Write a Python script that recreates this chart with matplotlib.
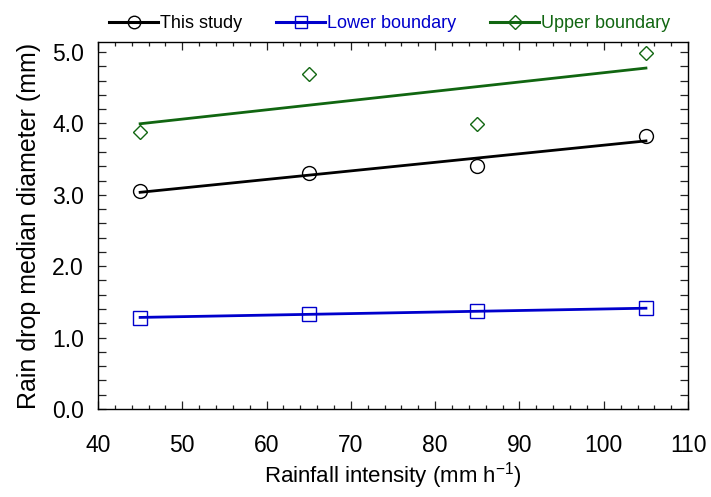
import numpy as np
import matplotlib
matplotlib.use("Agg")
import matplotlib.pyplot as plt
from matplotlib.lines import Line2D
from matplotlib.ticker import MultipleLocator

plt.rcParams['font.family'] = ['Liberation Sans', 'DejaVu Sans']
plt.rcParams['mathtext.fontset'] = 'custom'
plt.rcParams['mathtext.rm'] = 'Liberation Sans'

# data
intensity = [45, 65, 85, 105]
this_study = [3.05, 3.31, 3.40, 3.82]
lower_bound = [1.28, 1.33, 1.37, 1.41]
upper_bound = [3.88, 4.69, 3.99, 4.98]

labels = ["This study", "Lower boundary", "Upper boundary"]
colors = ["black", "#0000cc", "#116611"]
markers = ["o", "s", "D"]
msizes = [10, 9.5, 7.5]

fig = plt.figure(figsize=(7.11, 4.97), dpi=100)
ax = fig.add_axes([0.1378, 0.177, 0.83, 0.7385])

x = np.array(intensity)
handles = []
for y, lab, c, m, ms in zip([this_study, lower_bound, upper_bound], labels, colors, markers, msizes):
    # linear fit line
    k, b = np.polyfit(x, y, 1)
    ax.plot(x, k * x + b, color=c, lw=2.0)
    ax.plot(x, y, ls="none", marker=m, ms=ms, mfc="none", mec=c, mew=1.0)
    handles.append(Line2D([], [], color=c, lw=2.2, marker=m, ms=ms * 0.9, mfc="none", mec=c, mew=1.0))

ax.set_xlim(40, 110)
ax.set_ylim(0, 5.14)
ax.xaxis.set_major_locator(MultipleLocator(10))
ax.xaxis.set_minor_locator(MultipleLocator(2))
ax.yaxis.set_major_locator(MultipleLocator(1))
ax.yaxis.set_minor_locator(MultipleLocator(0.2))
ax.yaxis.set_major_formatter(matplotlib.ticker.FormatStrFormatter('%.1f'))
ax.tick_params(which='both', direction='in', top=True, right=True, labelsize=16.5, width=0.9, color='#222222')
ax.tick_params(which='major', length=5.5)
ax.tick_params(axis='x', which='major', pad=18)
ax.tick_params(axis='y', which='major', pad=10)
ax.tick_params(axis='x', which='minor', length=3)
ax.tick_params(axis='y', which='minor', length=5.5)
for s in ax.spines.values():
    s.set_linewidth(1.0)

ax.set_xlabel("Rainfall intensity (mm h$^{-1}$)", fontsize=16, labelpad=2)
ax.set_ylabel("Rain drop median diameter (mm)", fontsize=18, labelpad=8)

fig.legend(handles, labels, loc='center', bbox_to_anchor=(0.548, 0.953), ncol=3,
           frameon=False, fontsize=13, handlelength=2.7, handletextpad=0.1,
           columnspacing=1.9, labelcolor=colors)

fig.savefig("out.png", dpi=100)
